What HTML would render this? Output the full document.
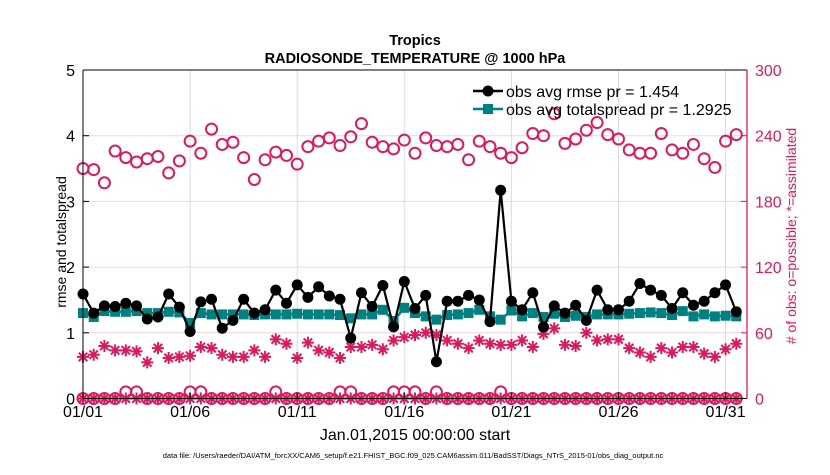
<!DOCTYPE html>
<html><head><meta charset="utf-8"><style>
body{margin:0;background:#fff;}
svg text{font-family:"Liberation Sans",Arial,sans-serif;}
</style></head><body>
<svg id="chart" width="830" height="470" viewBox="0 0 830 470" xmlns="http://www.w3.org/2000/svg">
<g id="grid"></g>
<g id="marks"></g>
<g id="axes"></g>
<text x="415" y="45" text-anchor="middle" font-size="14.5" font-weight="bold">Tropics</text>
<text x="415" y="63" text-anchor="middle" font-size="14.5" font-weight="bold">RADIOSONDE_TEMPERATURE @ 1000 hPa</text>
<text transform="translate(66,242) rotate(-90)" text-anchor="middle" font-size="14">rmse and totalspread</text>
<text transform="translate(796,236) rotate(-90)" text-anchor="middle" font-size="14" fill="#d81b60">&#35; of obs: o=possible; *=assimilated</text>
<text x="415" y="440" text-anchor="middle" font-size="16">Jan.01,2015 00:00:00 start</text>
<text x="413" y="458" text-anchor="middle" font-size="7.5">data file: /Users/raeder/DAI/ATM_forcXX/CAM6_setup/f.e21.FHIST_BGC.f09_025.CAM6assim.011/BadSST/Diags_NTrS_2015-01/obs_diag_output.nc</text>
<g>
<line x1="473" y1="91" x2="503" y2="91" stroke="#000" stroke-width="2.5"/>
<circle cx="488" cy="91" r="5.5" fill="#000"/>
<text x="506" y="97" font-size="16">obs avg rmse pr = 1.454</text>
<line x1="473" y1="109" x2="503" y2="109" stroke="#008080" stroke-width="2.5"/>
<rect x="483" y="104" width="10" height="10" fill="#008080"/>
<text x="506" y="115" font-size="16">obs avg totalspread pr = 1.2925</text>
</g>
</svg>
<script>
const rmse=[1.59,1.30,1.41,1.40,1.45,1.41,1.21,1.24,1.59,1.39,1.02,1.47,1.51,1.07,1.19,1.51,1.30,1.35,1.65,1.45,1.73,1.54,1.70,1.56,1.51,0.92,1.61,1.40,1.72,1.09,1.78,1.37,1.57,0.56,1.48,1.48,1.57,1.50,1.17,3.17,1.48,1.35,1.61,1.09,1.41,1.30,1.42,1.19,1.65,1.35,1.35,1.48,1.75,1.65,1.57,1.37,1.61,1.42,1.48,1.61,1.73,1.32];
const spread=[1.30,1.24,1.33,1.32,1.32,1.33,1.30,1.30,1.32,1.31,1.15,1.30,1.28,1.28,1.28,1.28,1.27,1.28,1.28,1.28,1.29,1.28,1.28,1.28,1.27,1.22,1.28,1.28,1.35,1.18,1.38,1.30,1.25,1.20,1.27,1.28,1.30,1.35,1.25,1.20,1.34,1.25,1.30,1.24,1.29,1.24,1.26,1.24,1.28,1.28,1.28,1.29,1.30,1.31,1.30,1.27,1.33,1.25,1.28,1.25,1.26,1.25];
const possible=[210,209,197,226,220,216,219,221,206,217,235,224,246,232,234,220,200,218,225,222,214,230,235,238,231,239,251,234,230,228,236,224,238,231,230,232,218,235,230,224,220,229,242,240,260,233,237,245,252,241,237,227,224,224,242,227,224,232,219,211,235,241];
const assimilated=[38,40,48,44,44,43,33,46,37,38,39,47,46,40,38,38,44,38,54,50,37,51,44,42,37,47,47,49,45,53,56,58,60,58,53,50,46,53,50,49,49,53,47,59,64,49,48,60,53,54,54,46,42,38,46,42,47,47,41,38,45,50];
const possibleLow=[0,0,0,0,6,6,0,0,0,0,6,6,0,0,0,0,0,0,6,0,0,0,0,0,6,6,0,0,0,6,6,6,0,6,0,0,0,0,0,6,0,0,0,0,0,0,0,0,0,0,0,0,0,0,0,0,0,0,0,0,0,0];
const assimilatedLow=[0,0,0,0,0,0,0,0,0,0,0,0,0,0,0,0,0,0,0,0,0,0,0,0,0,0,0,0,0,0,0,0,0,0,0,0,0,0,0,0,0,0,0,0,0,0,0,0,0,0,0,0,0,0,0,0,0,0,0,0,0,0];
const xTickDays=[0,5,10,15,20,25,30];
const xTickLabels=["01/01","01/06","01/11","01/16","01/21","01/26","01/31"];
const yLeftTicks=[0,1,2,3,4,5];
const yRightTicks=[0,60,120,180,240,300];

const NS="http://www.w3.org/2000/svg";
const X0=83,X1=747,Y0=398.5,Y1=70,DAYS=31;
const MAG="#d81b60";
const xs=d=>X0+(X1-X0)*d/DAYS;
const xi=i=>xs(i*0.5);
const yL=v=>Y0-(Y0-Y1)*v/5;
const yR=v=>Y0-(Y0-Y1)*v/300;
function mk(tag,attrs,parent){const e=document.createElementNS(NS,tag);for(const k in attrs)e.setAttribute(k,attrs[k]);parent.appendChild(e);return e;}
const grid=document.getElementById('grid'),marks=document.getElementById('marks'),axes=document.getElementById('axes');

xTickDays.forEach((d,i)=>{
  const g=mk('line',{x1:xs(d),x2:xs(d),y1:Y1,y2:Y0,stroke:'#dcdcdc','stroke-width':1},grid);
  
  
  const t=mk('line',{x1:xs(d),x2:xs(d),y1:Y0,y2:Y0-6,stroke:'#000'},axes);
  
  
  const lb=mk('text',{x:xs(d),y:417,'text-anchor':'middle','font-size':16},axes);
  lb.textContent=xTickLabels[i];
  
  
});
yRightTicks.forEach(v=>{
  if(v>0&&v<300){const g=mk('line',{x1:X0,x2:X1,y1:yR(v),y2:yR(v),stroke:'#f0d4dd','stroke-width':1},grid);
  
  }
  const t=mk('line',{x1:X1,x2:X1-6,y1:yR(v),y2:yR(v),stroke:MAG},axes);
  
  
  const lb=mk('text',{x:X1+8,y:yR(v)+6,'font-size':16,fill:MAG},axes);
  lb.textContent=v;
  
  
});
yLeftTicks.forEach(v=>{
  const t=mk('line',{x1:X0,x2:X0+6,y1:yL(v),y2:yL(v),stroke:'#000'},axes);
  
  
  const lb=mk('text',{x:X0-8,y:yL(v)+6,'text-anchor':'end','font-size':16},axes);
  lb.textContent=v;
  
  
});
let a=mk('line',{x1:X0,x2:X1,y1:Y1,y2:Y1,stroke:'#000'},axes);


a=mk('line',{x1:X0,x2:X1,y1:Y0,y2:Y0,stroke:'#000'},axes);


a=mk('line',{x1:X0,x2:X0,y1:Y1,y2:Y0,stroke:'#000'},axes);


a=mk('line',{x1:X1,x2:X1,y1:Y1,y2:Y0,stroke:MAG,'stroke-width':1.3},axes);



function star(cx,cy,name){
  const r=6;let d='';
  for(let k=0;k<4;k++){const an=k*Math.PI/4;const dx=r*Math.cos(an),dy=r*Math.sin(an);d+=`M${cx-dx},${cy-dy}L${cx+dx},${cy+dy}`;}
  const p=mk('path',{d:d,stroke:MAG,'stroke-width':2,fill:'none'},marks);
  
  
}
possible.forEach((v,i)=>{
  const c=mk('circle',{cx:xi(i),cy:yR(v),r:5.5,fill:'none',stroke:MAG,'stroke-width':2},marks);
  
  
});
possibleLow.forEach((v,i)=>{
  const c=mk('circle',{cx:xi(i),cy:yR(v),r:5.5,fill:'none',stroke:MAG,'stroke-width':2},marks);
  
  
});
assimilatedLow.forEach((v,i)=>star(xi(i),yR(v),'assimilated-obs-low-point'));
assimilated.forEach((v,i)=>star(xi(i),yR(v),'assimilated-obs-point'));
let pl=mk('polyline',{points:spread.map((v,i)=>xi(i)+','+yL(v)).join(' '),fill:'none',stroke:'#008080','stroke-width':2.5},marks);


spread.forEach((v,i)=>{
  const r=mk('rect',{x:xi(i)-5,y:yL(v)-5,width:10,height:10,fill:'#008080'},marks);
  
  
});
pl=mk('polyline',{points:rmse.map((v,i)=>xi(i)+','+yL(v)).join(' '),fill:'none',stroke:'#000','stroke-width':2.2},marks);


rmse.forEach((v,i)=>{
  const c=mk('circle',{cx:xi(i),cy:yL(v),r:5.5,fill:'#000'},marks);
  
  
});
</script>
</body></html>
